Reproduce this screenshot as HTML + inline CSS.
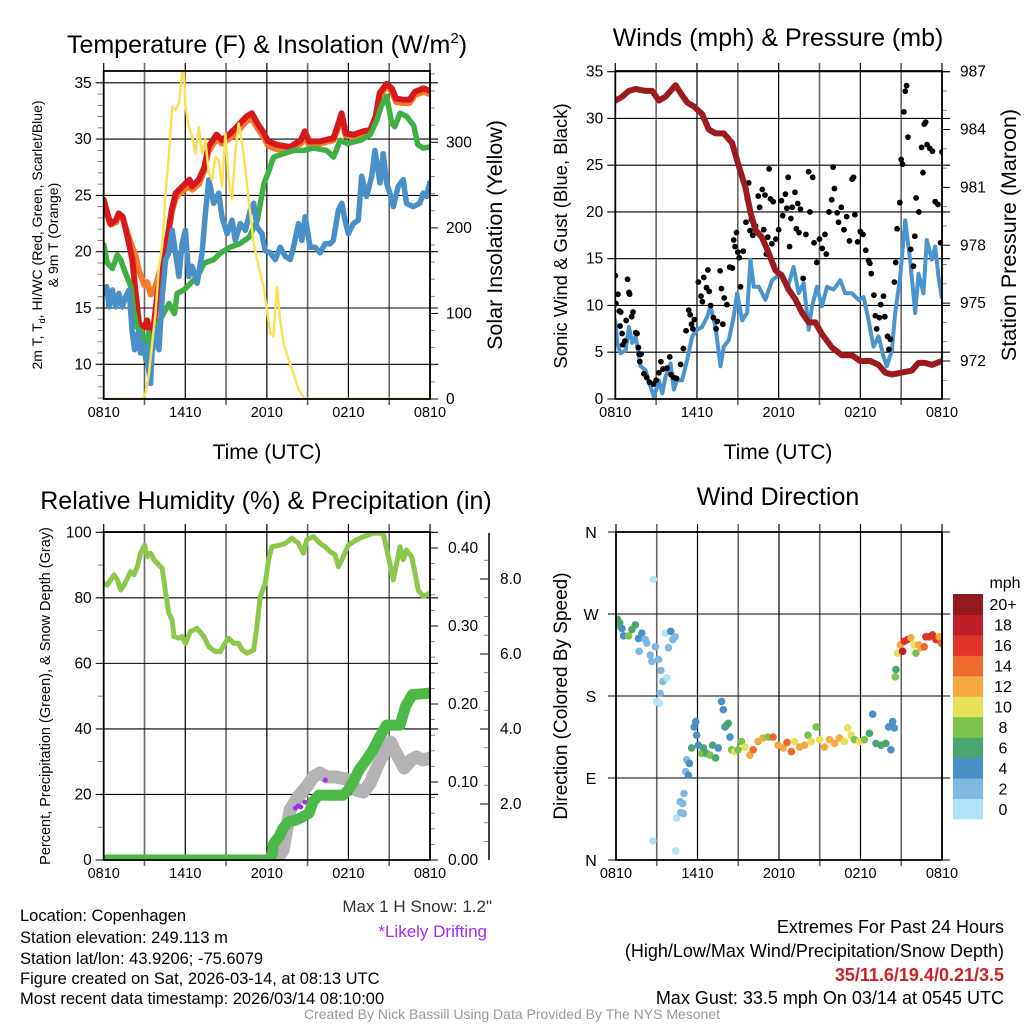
<!DOCTYPE html>
<html><head><meta charset="utf-8"><style>
html,body{margin:0;padding:0;background:#fff}
svg{display:block;font-family:"Liberation Sans",sans-serif}
</style></head><body>
<svg id="fig" width="1024" height="1024" viewBox="0 0 1024 1024" xmlns="http://www.w3.org/2000/svg">
<defs>
<clipPath id="c1"><rect x="103" y="71" width="327" height="328"/></clipPath>
<clipPath id="c2"><rect x="615" y="71" width="327" height="328"/></clipPath>
<clipPath id="c3"><rect x="103" y="532" width="327" height="328"/></clipPath>
<clipPath id="c4"><rect x="616" y="532" width="326" height="328"/></clipPath>
</defs>
<g id="g1"></g>
<g id="g2"></g>
<g id="g3"></g>
<g id="g4"></g>
<text x="267" y="53" font-size="25" text-anchor="middle">Temperature (F) &amp; Insolation (W/m<tspan dy="-10" font-size="15">2</tspan><tspan dy="10">)</tspan></text>
<text x="778" y="46" font-size="25" text-anchor="middle">Winds (mph) &amp; Pressure (mb)</text>
<text x="266" y="509" font-size="25" text-anchor="middle">Relative Humidity (%) &amp; Precipitation (in)</text>
<text x="778" y="505" font-size="25" text-anchor="middle">Wind Direction</text>
<text x="267" y="459" font-size="21" text-anchor="middle">Time (UTC)</text>
<text x="778" y="459" font-size="21" text-anchor="middle">Time (UTC)</text>
<text transform="translate(42,235) rotate(-90)" font-size="14" text-anchor="middle">2m T, T<tspan font-size="9" dy="3">d</tspan><tspan dy="-3">, HI/WC (Red, Green, Scarlet/Blue)</tspan></text>
<text transform="translate(58,235) rotate(-90)" font-size="14" text-anchor="middle">&amp; 9m T (Orange)</text>
<text transform="translate(502,235) rotate(-90)" font-size="21.5" text-anchor="middle">Solar Insolation (Yellow)</text>
<text transform="translate(567,236) rotate(-90)" font-size="18.5" text-anchor="middle">Sonic Wind &amp; Gust (Blue, Black)</text>
<text transform="translate(1016,235) rotate(-90)" font-size="21.5" text-anchor="middle">Station Pressure (Maroon)</text>
<text transform="translate(50,696) rotate(-90)" font-size="14.5" text-anchor="middle">Percent, Precipitation (Green), &amp; Snow Depth (Gray)</text>
<text transform="translate(567,696) rotate(-90)" font-size="19" text-anchor="middle">Direction (Colored By Speed)</text>
<text x="492" y="912" font-size="17" text-anchor="end" fill="#333">Max 1 H Snow: 1.2"</text>
<text x="487" y="937" font-size="17" text-anchor="end" fill="#A52BF0">*Likely Drifting</text>
<g font-size="16.5">
<text x="20" y="921">Location: Copenhagen</text>
<text x="20" y="943">Station elevation: 249.113 m</text>
<text x="20" y="964">Station lat/lon: 43.9206; -75.6079</text>
<text x="20" y="984">Figure created on Sat, 2026-03-14, at 08:13 UTC</text>
<text x="20" y="1004">Most recent data timestamp: 2026/03/14 08:10:00</text>
</g>
<g font-size="18" text-anchor="end">
<text x="1004" y="933">Extremes For Past 24 Hours</text>
<text x="1004" y="957">(High/Low/Max Wind/Precipitation/Snow Depth)</text>
<text x="1004" y="981" font-weight="bold" fill="#D02027">35/11.6/19.4/0.21/3.5</text>
<text x="1004" y="1004">Max Gust: 33.5 mph On 03/14 at 0545 UTC</text>
</g>
<text x="512" y="1019" font-size="14" text-anchor="middle" fill="#999">Created By Nick Bassill Using Data Provided By The NYS Mesonet</text>
</svg>
<script>
// ---------- data ----------
var timeTicks = ["0810","1410","2010","0210","0810"];
var tempTimes = [0,0.27,0.5,0.9,1.1,1.4,1.7,2.1,2.35,2.6,3.0,3.2,3.45,3.7,3.95,4.3,4.7,5.0,5.3,5.8,6.3,6.5,7.0,7.4,7.7,8.3,8.7,9.3,9.8,10.5,10.9,11.3,11.8,12.1,12.7,13.7,14.5,14.8,15.1,15.9,16.9,17.3,17.5,17.8,18.4,19.1,19.6,20.0,20.3,20.8,21.2,21.5,22.0,22.5,22.9,23.5,24];
var tempValues = [24.6,23.4,22.5,22.8,23.4,23.1,21.6,19.3,16.3,13.6,13.3,13.9,12.5,13.6,16.3,18.7,21.3,23.7,25.2,25.8,26.4,25.8,26.4,27.5,29.3,30.4,29.9,30.5,31.1,32.0,32.3,31.4,30.5,29.8,29.5,29.3,29.9,30.7,29.8,29.8,30.1,31.5,32.3,30.5,30.4,30.7,30.8,32.0,34.1,34.9,34.5,33.6,33.5,33.5,34.2,34.5,34.3];
var temp9mValues = [24.3,23.2,22.4,22.6,23.2,23.0,21.8,20.4,19.6,18.3,17.0,17.3,16.2,16.5,17.5,19.0,21.3,23.5,24.8,25.4,25.8,25.5,26.0,27.2,28.9,30.0,29.6,30.1,30.6,31.6,31.8,31.0,30.1,29.4,29.1,29.1,29.6,30.2,29.5,29.6,29.9,31.2,32.0,30.3,30.2,30.5,30.6,31.7,33.8,34.7,34.2,33.3,33.2,33.2,33.9,34.2,34.0];
var dewTimes = [0,0.27,0.64,1.0,1.25,1.6,2.0,2.2,2.45,2.8,3.1,3.3,3.6,3.9,4.4,4.8,5.2,5.4,5.9,6.4,6.9,7.4,8.1,8.6,9.3,10.0,10.7,11.3,11.8,12.1,12.5,13.2,14.0,14.7,15.4,16.4,16.9,17.4,17.9,18.9,19.6,20.1,20.4,20.8,21.2,21.4,21.8,22.3,22.8,23.1,23.5,24];
var dewValues = [20.6,19.0,18.5,19.7,19.3,18.1,16.9,14.8,13.3,12.8,10.4,12.8,11.3,13.3,14.5,15.4,14.5,16.3,16.6,17.2,17.8,19.0,19.3,19.9,20.4,20.7,21.3,22.8,26.1,27.0,28.4,28.7,29.0,29.0,29.2,29.0,28.4,29.9,29.6,29.9,30.4,31.7,32.9,33.8,31.4,31.1,32.3,32.0,31.2,29.5,29.2,29.3];
var chillTimes = [0,0.22,0.39,0.64,0.88,1.12,1.37,1.61,1.86,2.1,2.27,2.52,2.71,2.96,3.2,3.45,3.57,3.81,4.06,4.3,4.55,4.79,5.04,5.28,5.53,5.77,6.01,6.26,6.5,6.87,7.24,7.48,7.73,8.09,8.46,8.7,9.07,9.44,9.68,10.05,10.42,10.78,11.03,11.27,11.64,11.88,12.25,12.62,12.98,13.35,13.72,13.96,14.33,14.57,14.82,15.18,15.55,15.92,16.28,16.65,16.89,17.26,17.51,17.75,17.99,18.36,18.73,18.97,19.34,19.71,19.95,20.32,20.56,20.81,21.05,21.3,21.66,22.03,22.27,22.76,23.25,23.5,23.74,23.98];
var chillValues = [16.3,16.9,15.1,16.6,15.1,16.3,15.1,16.0,16.6,12.8,11.3,12.8,11.0,11.9,10.4,8.3,11.3,13.3,11.3,16.0,19.3,19.9,21.9,19.9,17.8,20.7,21.9,17.8,18.7,17.2,19.9,23.4,26.4,24.3,25.2,23.1,21.6,22.8,21.0,22.5,21.9,23.7,24.3,22.2,21.6,20.1,19.9,19.3,20.4,19.6,19.3,20.4,22.5,21.0,23.1,20.4,20.4,19.9,20.7,20.7,21.0,23.7,24.3,22.8,21.6,22.5,22.8,26.7,24.9,26.7,29.0,26.1,28.7,26.1,25.2,24.0,25.8,26.4,24.3,24.0,24.3,25.2,24.9,26.1];
var solarTimes = [0,2.84,3.08,3.33,3.57,3.81,4.06,4.3,4.55,4.79,5.04,5.28,5.53,5.77,5.89,6.01,6.26,6.5,6.75,6.99,7.24,7.48,7.73,7.97,8.22,8.46,8.7,8.95,9.19,9.44,9.68,9.93,10.17,10.42,10.66,11.03,11.39,11.76,12.0,12.25,12.49,12.74,12.98,13.23,13.59,13.96,14.33,14.82,24];
var solarValues = [0,0,7,30,65,100,155,178,240,283,342,338,345,381,390,342,318,307,287,318,287,303,264,256,283,279,248,310,256,233,287,322,299,268,233,182,155,131,104,77,73,131,92,65,46,30,11,0,0];

var presTimes = [0,0.51,1.0,1.49,2.22,2.71,3.2,3.69,4.06,4.43,4.79,5.28,5.77,6.38,6.87,7.36,7.97,8.58,9.07,9.56,9.93,10.29,10.78,11.27,11.76,12.25,12.74,13.23,13.72,14.21,14.69,15.18,15.92,16.65,17.38,17.99,18.73,19.34,19.83,20.32,21.05,21.78,22.27,22.76,23.25,23.98];
var presValues = [985.5,985.7,986.0,986.1,986.0,986.0,985.5,985.7,986.0,986.3,985.9,985.4,985.2,984.8,984.0,983.8,983.8,983.3,982.1,981.0,979.7,978.8,978.4,977.6,976.7,976.4,975.7,975.2,974.5,974.0,974.0,973.4,972.7,972.3,972.3,972.0,972.0,971.8,971.4,971.3,971.4,971.5,971.9,971.9,971.8,972.0];
var windTimes = [0,0.15,0.39,0.76,1.0,1.25,1.49,1.86,2.22,2.59,2.84,3.2,3.45,3.69,4.06,4.3,4.55,4.91,5.28,5.65,6.01,6.38,6.75,6.99,7.36,7.73,7.97,8.34,8.7,8.95,9.32,9.68,9.93,10.17,10.54,11.03,11.52,11.88,12.25,12.62,13.1,13.47,13.84,14.21,14.45,14.82,15.18,15.55,16.04,16.53,16.89,17.38,17.87,18.24,18.61,18.97,19.34,19.71,19.95,20.32,20.56,20.93,21.3,21.66,22.03,22.27,22.64,22.88,23.25,23.5,23.74,23.98];
var windValues = [8.4,6.0,4.9,5.2,7.7,6.0,6.7,3.5,3.1,1.3,0.2,2.0,0.6,2.4,3.8,1.0,2.0,2.0,4.2,6.7,7.4,7.7,8.8,9.9,7.7,3.5,5.6,6.3,8.8,11.3,8.4,9.2,14.9,12.0,12.0,10.6,12.7,13.1,13.4,11.7,14.1,11.3,12.4,7.4,9.9,12.0,9.9,12.0,11.7,12.7,11.3,11.3,10.6,10.9,8.4,5.6,6.7,4.5,3.5,5.2,9.2,13.1,19.1,14.9,9.2,13.4,11.3,17.0,14.9,16.3,13.1,10.9];
var gustTimes = [0,0.05,0.2,0.3,0.4,0.35,0.5,0.55,0.7,0.8,0.9,1.0,1.05,1.2,1.3,1.5,1.6,1.7,1.75,1.8,1.9,2.1,2.3,2.5,2.8,3.0,3.2,3.35,3.5,3.8,4.0,4.1,4.3,4.5,4.8,5.0,5.2,5.4,5.5,5.6,5.7,5.8,6.1,6.3,6.4,6.5,6.7,6.8,6.9,7.0,7.2,7.4,7.5,7.7,7.8,7.9,8.0,8.2,8.4,8.6,8.7,8.8,8.9,9.0,9.1,9.2,9.4,9.6,9.7,9.8,9.9,10.0,10.1,10.3,10.5,10.6,10.8,10.9,11.0,11.1,11.2,11.3,11.4,11.5,11.6,11.8,12.0,12.2,12.3,12.5,12.6,12.7,12.8,12.9,13.0,13.2,13.3,13.4,13.5,13.6,13.8,14.0,14.2,14.3,14.5,14.6,14.8,15.0,15.2,15.4,15.5,15.7,15.9,16.0,16.1,16.3,16.4,16.6,16.8,17.0,17.2,17.4,17.5,17.6,17.8,18.0,18.2,18.4,18.6,18.7,18.8,19.0,19.1,19.2,19.4,19.5,19.7,19.8,20.0,20.1,20.2,20.5,20.6,20.7,20.9,21.0,21.1,21.2,21.3,21.4,21.5,21.7,21.9,22.0,22.1,22.3,22.5,22.6,22.7,22.8,22.9,23.1,23.3,23.5,23.7,23.9,24.0];
var gustValues = [13.2,10.2,11.2,9.4,9.3,7.8,7.0,5.8,6.2,8.4,12.8,11.4,11.2,8.8,9.3,7.1,7.0,5.5,4.8,4.0,4.8,2.7,2.3,1.8,1.6,2.0,2.8,4.0,3.2,3.3,4.5,2.6,2.3,2.2,3.7,5.4,7.3,9.5,9.0,8.0,7.5,8.5,12.5,11.0,10.4,13.0,11.9,13.8,11.5,10.0,8.7,7.5,8.3,13.7,11.8,8.0,10.8,10.1,14.1,14.0,17.0,16.3,17.8,15.7,15.1,12.0,15.8,18.9,21.4,23.1,18.0,19.2,17.5,18.5,21.7,20.5,22.4,18.1,21.8,15.5,17.3,24.6,21.4,16.6,21.1,17.1,18.1,21.2,19.6,21.9,20.4,23.7,16.3,19.3,20.5,22.1,18.2,20.9,17.8,20.3,12.9,17.6,24.3,20.0,23.7,16.7,14.6,17.1,16.1,17.6,15.5,20.0,21.3,24.8,22.5,19.9,18.9,20.5,18.1,19.5,16.9,23.5,23.7,19.7,16.8,17.9,17.6,15.9,14.8,14.5,13.4,11.1,8.9,7.5,8.7,10.1,11.0,8.8,6.7,5.3,6.4,12.5,14.6,18.2,21.0,25.6,25.1,30.7,32.9,33.5,28.0,16.0,14.2,17.4,21.5,20.0,26.9,24.2,29.4,29.6,27.2,26.8,26.5,21.1,20.8,16.7,26.4];

var rhTimes = [0,0.27,0.51,0.76,1.0,1.25,1.49,1.74,1.98,2.22,2.47,2.71,3.01,3.2,3.45,3.69,4.06,4.3,4.55,4.79,5.04,5.16,5.53,5.77,6.01,6.38,6.87,7.36,7.73,8.22,8.58,8.83,9.19,9.56,9.93,10.17,10.54,11.03,11.27,11.52,11.88,12.13,12.37,12.98,13.35,13.84,14.33,14.69,14.93,15.43,15.92,16.28,16.65,17.02,17.26,17.63,17.99,18.61,19.1,19.83,20.56,20.93,21.3,21.54,21.79,22.03,22.27,22.64,22.88,23.13,23.5,23.98];
var rhValues = [84.4,83.9,85.5,87.0,85.5,82.4,83.9,86.0,88.0,87.0,89.5,93.6,96.1,92.6,93.6,91.6,90.0,89.0,81.4,75.3,73.2,68.2,67.7,68.2,66.1,69.7,70.7,68.2,65.1,63.6,63.6,65.6,67.7,66.1,66.1,64.1,63.1,64.1,71.2,80.4,84.4,91.6,95.6,96.1,96.6,98.2,96.6,93.6,97.7,98.7,96.6,95.6,94.1,93.1,89.5,92.6,96.1,97.7,98.7,99.7,99.7,92.6,85.5,90.5,95.6,91.6,94.6,92.6,88.0,82.4,80.4,81.4];
var precipTimes = [0,12.1,12.4,12.5,12.9,13.2,13.6,14.1,14.6,15.1,15.4,15.8,17.6,18.0,18.4,18.8,19.3,19.8,20.3,20.8,21.8,22.2,22.7,24];
var precipValues = [0,0,0.008,0.021,0.030,0.041,0.049,0.051,0.055,0.060,0.075,0.083,0.083,0.090,0.102,0.116,0.128,0.141,0.158,0.173,0.173,0.197,0.212,0.214];
var snowTimes = [12.7,13.2,13.7,14.3,14.9,15.4,15.9,16.4,17.1,18.1,18.6,19.1,19.6,20.1,20.6,21.1,21.5,22.1,22.6,23.0,23.5,24.0];
var snowValues = [0.51,0.77,1.84,2.19,2.45,2.72,2.83,2.72,2.72,2.64,2.37,2.32,2.56,2.99,3.36,3.65,3.36,2.96,3.17,3.25,3.17,3.23];
var driftTimes = [14.1,14.3,14.5,14.8,16.3];
var driftValues = [1.89,1.95,1.92,2.05,2.64];

var dirTimes = [0,0.12,0.27,0.44,0.56,0.93,1.17,1.42,1.66,1.9,2.15,2.27,1.7,2.52,2.64,2.76,2.9,3.13,3.3,3.45,3.74,3.25,3.0,3.18,3.62,3.86,4.03,4.18,4.35,2.71,4.4,4.47,4.72,4.91,5.01,4.77,4.96,5.13,5.33,5.21,5.4,5.57,5.75,5.87,5.94,6.06,6.3,6.43,6.67,6.92,7.11,7.33,7.53,7.77,7.9,8.02,8.14,8.26,8.39,8.51,8.75,8.99,9.24,9.49,9.85,10.1,10.46,10.83,11.2,11.56,11.93,12.3,12.59,12.91,13.15,13.52,13.89,14.13,14.38,14.74,14.99,15.35,15.72,16.09,16.45,16.82,17.06,17.31,17.55,17.92,18.29,18.66,18.9,19.14,19.51,19.87,20.07,20.24,20.37,20.49,20.56,20.61,20.73,20.93,21.1,21.22,21.47,21.71,21.96,22.08,22.27,22.44,22.69,22.81,23.06,23.3,23.55,23.79,23.96];
var dirValues = [257,264,260,254,246,246,253,258,243,249,242,238,229,225,218,308,234,220,208,196,200,183,174,172,249,233,251,242,245,21,10,46,64,62,73,52,51,97,93,110,106,123,146,152,137,126,117,123,117,115,126,112,123,174,165,146,148,150,135,121,119,121,130,124,115,121,130,134,135,135,126,123,129,119,130,124,126,137,130,146,132,124,132,128,134,130,145,137,132,130,132,139,160,128,126,128,146,121,152,145,201,209,227,236,229,240,242,244,236,227,236,233,234,245,245,247,242,245,238];
var dirSpeeds = [8,7,6,4,4,8,7,6,4,4,3,2,3,3,2,1,2,2,3,3,1,2,1,1,1,3,4,2,2,1,0,1,2,2,2,2,2,3,4,3,4,6,4,4,4,4,8,7,6,9,7,6,4,4,4,4,7,7,4,8,10,9,8,10,12,14,12,12,9,14,12,12,15,15,10,12,12,8,11,8,10,12,12,13,12,11,10,10,8,10,8,7,4,7,6,6,4,4,4,4,8,6,10,12,18,17,16,12,10,8,12,12,14,16,17,16,16,12,15];
var speedBins = ["0","2","4","6","8","10","12","14","16","18","20+"];
var speedColors = ["#B3E3F8","#7FB9E3","#4A90C8","#4AA671","#7DC24B","#E6E05A","#F6A943","#EE6A2C","#DE3528","#C11F26","#931A1D"];

// ---------- helpers ----------
var NS = "http://www.w3.org/2000/svg";
function mk(tag, attrs, parent){ var e=document.createElementNS(NS,tag); for(var k in attrs) e.setAttribute(k,attrs[k]); parent.appendChild(e); return e; }
function txt(s, attrs, parent){ var e=mk("text",attrs,parent); e.textContent=s; return e; }
function path(ts, vs, xs, ys){ var d=""; for(var i=0;i<ts.length;i++){ d+=(i?"L":"M")+xs(ts[i]).toFixed(1)+","+ys(vs[i]).toFixed(1);} return d; }

function frame(g, P){
  for(var k=0;k<=8;k++){
    var x=P.xs(k*3);
    var ln=mk("line",{x1:x,x2:x,y1:P.y0-8,y2:P.y1+(k%2===0?0:6),stroke:(k%2===0?"#000":"#666"),"stroke-width":(k%2===0?1.2:1.6)},g);
    
    
  }
  for(var j=0;j<timeTicks.length;j++){
    var t=txt(timeTicks[j],{x:P.xs(j*6),y:P.y1+18,"font-size":14.5,"text-anchor":"middle"},g);
    
    
  }
}
function hgrid(g,P,y,label){
  var ln=mk("line",{x1:P.x0-8,x2:P.x1+8,y1:y,y2:y,stroke:"#000","stroke-width":1.1},g);
  
  
  var t=txt(label,{x:P.x0-12,y:y+5,"font-size":15.5,"text-anchor":"end"},g);
  
  
}
function rightTicks(g,P,x,vals,labels,ys,minor,lx){
  for(var i=0;i<vals.length;i++){
    var y=ys(vals[i]);
    var tk=mk("line",{x1:x,x2:x+8,y1:y,y2:y,stroke:"#000","stroke-width":1},g);
    
    
    var t=txt(labels[i],{x:lx,y:y+5,"font-size":15.5},g);
    
    
  }
  for(var m=0;m<minor.length;m++){
    var yy=ys(minor[m]);
    var mt=mk("line",{x1:x,x2:x+5,y1:yy,y2:yy,stroke:"#666","stroke-width":0.8},g);
    
    
  }
}
function border(g,P){
  var r=mk("rect",{x:P.x0,y:P.y0,width:P.x1-P.x0,height:P.y1-P.y0,fill:"none",stroke:"#000","stroke-width":1.8},g);
  
  
}
function series(g,d,color,w,name){
  var p=mk("path",{d:d,fill:"none",stroke:color,"stroke-width":w,"stroke-linejoin":"round","stroke-linecap":"round"},g);
  
  
  return p;
}

// ---------- panel 1 ----------
(function(){
  var g=document.getElementById("g1");
  var P={x0:103.7,x1:430,y0:71,y1:399};
  P.xs=function(h){return P.x0+h/24*(P.x1-P.x0);};
  var yL=function(v){return 364.3-(v-10)*11.26;};
  var yR=function(v){return 399-v*0.8557;};
  frame(g,P);
  for(var v=10;v<=35;v+=5) hgrid(g,P,yL(v),String(v));
  for(var m=7;m<=35;m++){ if(m%5){ var mt=mk("line",{x1:P.x0-6,x2:P.x0,y1:yL(m),y2:yL(m),stroke:"#666","stroke-width":0.8},g);   } }
  var mn=[]; for(var r=20;r<=380;r+=20) if(r%100) mn.push(r);
  rightTicks(g,P,P.x1,[0,100,200,300],["0","100","200","300"],yR,mn,446);
  var c=mk("g",{"clip-path":"url(#c1)"},g);
  
  
  series(c,path(tempTimes,temp9mValues,P.xs,yL),"#F47B2A",6,"temp-9m-line");
  series(c,path(tempTimes,tempValues,P.xs,yL),"#D7191C",6,"temp-2m-line");
  series(c,path(dewTimes,dewValues,P.xs,yL),"#3FB044",5.5,"dewpoint-line");
  series(c,path(chillTimes,chillValues,P.xs,yL),"#4A90C8",5.5,"windchill-line");
  series(c,path(solarTimes,solarValues,P.xs,yR),"#FAE15A",2.5,"solar-line");
  border(g,P);
})();

// ---------- panel 2 ----------
(function(){
  var g=document.getElementById("g2");
  var P={x0:615.3,x1:942,y0:71,y1:399};
  P.xs=function(h){return P.x0+h/24*(P.x1-P.x0);};
  var yL=function(v){return 399-v*9.353;};
  var yR=function(p){return 361-(p-972)*19.29;};
  frame(g,P);
  for(var v=0;v<=35;v+=5) hgrid(g,P,yL(v),String(v));
  var mn=[]; for(var p=971;p<=986;p++) if((p-972)%3) mn.push(p);
  rightTicks(g,P,P.x1,[972,975,978,981,984,987],["972","975","978","981","984","987"],yR,mn,960);
  var c=mk("g",{"clip-path":"url(#c2)"},g);
  
  
  series(c,path(windTimes,windValues,P.xs,yL),"#4A95D0",4,"sustained-wind-line");
  for(var i=0;i<gustTimes.length;i++){
    var d=mk("circle",{cx:P.xs(gustTimes[i]),cy:yL(gustValues[i]),r:2.9,fill:"#000"},c);
    
    
  }
  series(c,path(presTimes,presValues,P.xs,yR),"#9B1B1E",6,"pressure-line");
  border(g,P);
})();

// ---------- panel 3 ----------
(function(){
  var g=document.getElementById("g3");
  var P={x0:103.7,x1:430,y0:532,y1:860};
  P.xs=function(h){return P.x0+h/24*(P.x1-P.x0);};
  var yL=function(v){return 860-v*3.277;};
  var yR=function(v){return 860-v*780;};
  var yS=function(s){return 804-(s-2)*37.5;};
  frame(g,P);
  for(var v=0;v<=100;v+=20) hgrid(g,P,yL(v),String(v));
  for(var m=10;m<100;m+=20){ var mt=mk("line",{x1:P.x0-6,x2:P.x0,y1:yL(m),y2:yL(m),stroke:"#666","stroke-width":0.8},g);   }
  var mn=[]; for(var k=0;k<=20;k++) if(k%5) mn.push(k*0.02);
  rightTicks(g,P,P.x1,[0,0.1,0.2,0.3,0.4],["0.00","0.10","0.20","0.30","0.40"],yR,mn,448);
  var ax=mk("line",{x1:489,x2:489,y1:533,y2:860,stroke:"#000","stroke-width":1.5},g);
  
  
  var sm=[]; for(var s=1;s<=8.5;s+=0.5) if(s%2) sm.push(s);
  rightTicks(g,P,480,[2,4,6,8],["2.0","4.0","6.0","8.0"],yS,[],500);
  for(var q=0;q<sm.length;q++){ var t2=mk("line",{x1:484,x2:489,y1:yS(sm[q]),y2:yS(sm[q]),stroke:"#666","stroke-width":0.8},g);   }
  var c=mk("g",{"clip-path":"url(#c3)"},g);
  
  
  series(c,path(snowTimes,snowValues,P.xs,yS),"#B3B3B3",13,"snow-depth-line");
  for(var i=0;i<driftTimes.length;i++){
    var d=mk("circle",{cx:P.xs(driftTimes[i]),cy:yS(driftValues[i]),r:2.5,fill:"#A52BF0"},c);
    
    
  }
  var pg=mk("g",{"clip-path":"url(#c3)"},g);
  series(pg,path(precipTimes,precipValues,P.xs,yR),"#4CB848",11,"precip-line");
  series(pg,path(rhTimes,rhValues,P.xs,yL),"#8CC84B",5,"rh-line");
  border(g,P);
})();

// ---------- panel 4 ----------
(function(){
  var g=document.getElementById("g4");
  var P={x0:616,x1:942,y0:532,y1:860};
  P.xs=function(h){return P.x0+h/24*(P.x1-P.x0);};
  var yD=function(d){return 860-d*0.9111;};
  frame(g,P);
  var dl=["N","E","S","W","N"];
  for(var i=0;i<5;i++){
    var y=yD(i*90);
    var ln=mk("line",{x1:P.x0-8,x2:P.x1+8,y1:y,y2:y,stroke:"#000","stroke-width":1.1},g);
    
    
    var t=txt(dl[i],{x:591,y:y+6,"font-size":16,"text-anchor":"middle"},g);
    
    
  }
  var c=mk("g",{"clip-path":"url(#c4)"},g);
  
  
  for(var j=0;j<dirTimes.length;j++){
    var bin=Math.min(10,Math.floor(dirSpeeds[j]/2));
    var d=mk("circle",{cx:P.xs(dirTimes[j]),cy:yD(dirValues[j]),r:3.8,fill:speedColors[bin]},c);
    
    
  }
  border(g,P);
  var cb=mk("g",{},g);
  
  
  var top=594, bot=819, h=(bot-top)/speedBins.length;
  for(var b=0;b<speedBins.length;b++){
    var yy=bot-(b+1)*h;
    var r=mk("rect",{x:953,y:yy,width:30,height:h+0.5,fill:speedColors[b]},cb);
    
    
    var t=txt(speedBins[b],{x:1003,y:yy+h/2+6,"font-size":16,"text-anchor":"middle"},cb);
    
    
  }
  var u=txt("mph",{x:1005,y:588,"font-size":16,"text-anchor":"middle"},cb);
  
  
})();
</script>
</body></html>
